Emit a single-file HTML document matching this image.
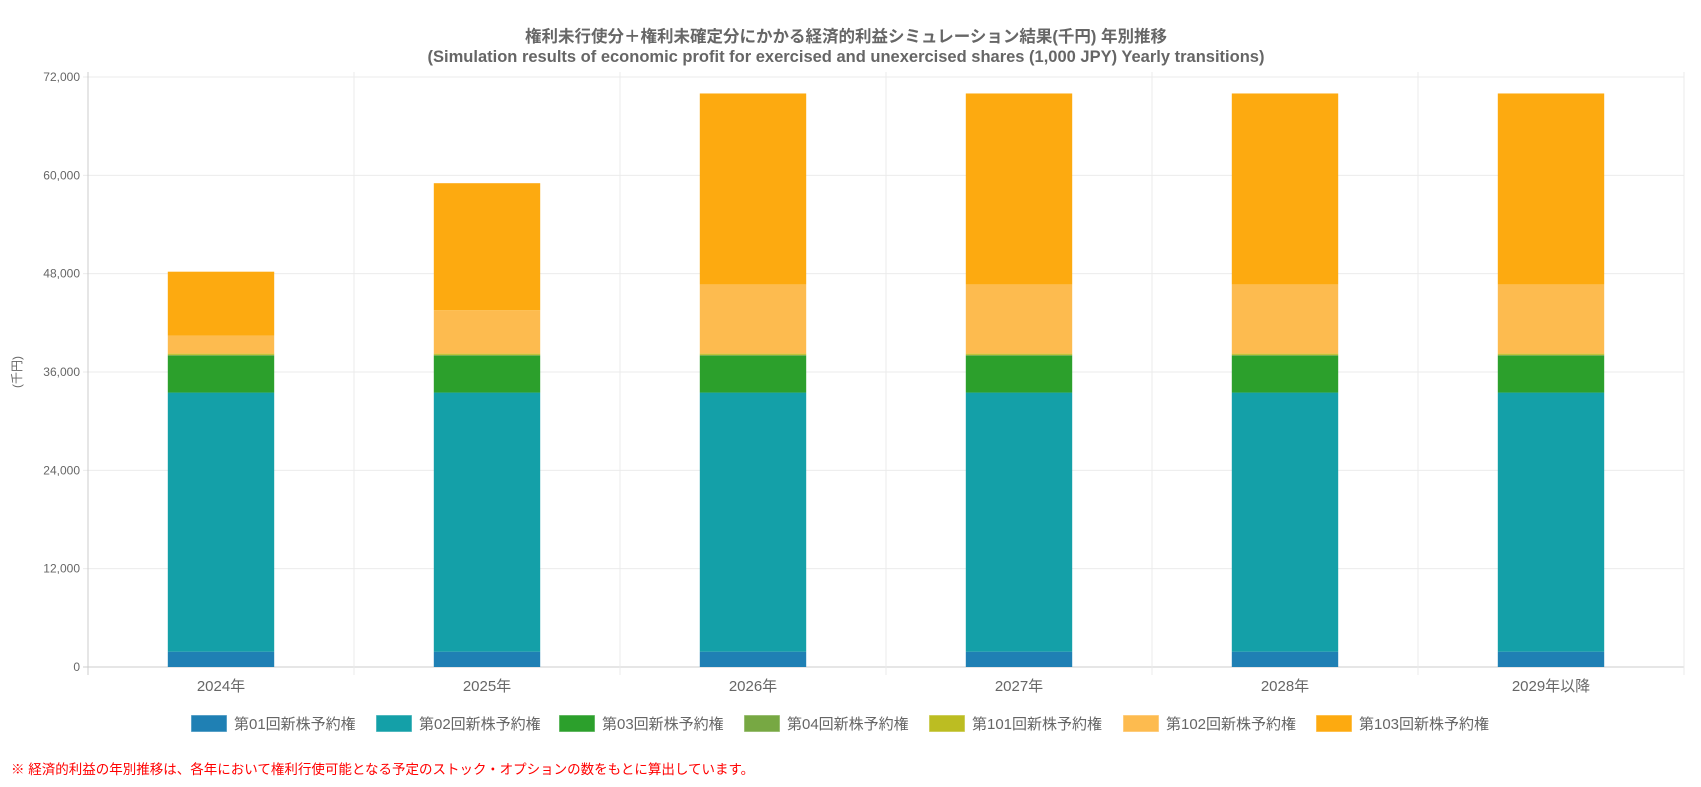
<!DOCTYPE html>
<html><head><meta charset="utf-8">
<style>
html,body{margin:0;padding:0;background:#fff;width:1701px;height:787px;overflow:hidden;}
svg{display:block;font-family:"Liberation Sans","Noto Sans CJK JP",sans-serif;}
</style></head>
<body>
<svg id="chart" width="1701" height="787" viewBox="0 0 1701 787" xmlns="http://www.w3.org/2000/svg">
<text x="846" y="42" text-anchor="middle" font-size="16.5" font-weight="bold" fill="#666">権利未行使分＋権利未確定分にかかる経済的利益シミュレーション結果(千円) 年別推移</text>
<text x="846" y="62" text-anchor="middle" font-size="16.5" font-weight="bold" fill="#666">(Simulation results of economic profit for exercised and unexercised shares (1,000 JPY) Yearly transitions)</text>
<text x="0" y="0" transform="translate(21,372) rotate(-90)" text-anchor="middle" font-size="12" fill="#666">(千円)</text>
<g id="grid"></g><g id="bars"></g><g id="axes"></g><g id="legend"></g>
<text x="11" y="774" font-size="13.5" fill="#f00">※ 経済的利益の年別推移は、各年において権利行使可能となる予定のストック・オプションの数をもとに算出しています。</text>
</svg>
<script>
const categories = ["2024年","2025年","2026年","2027年","2028年","2029年以降"];
const seriesNames = ["第01回新株予約権","第02回新株予約権","第03回新株予約権","第04回新株予約権","第101回新株予約権","第102回新株予約権","第103回新株予約権"];
const s01 = [1870,1870,1870,1870,1870,1870];
const s02 = [31620,31620,31620,31620,31620,31620];
const s03 = [4500,4500,4500,4500,4500,4500];
const s04 = [100,100,100,100,100,100];
const s101 = [150,150,150,150,150,150];
const s102 = [2200,5300,8450,8450,8450,8450];
const s103 = [7800,15500,23300,23300,23300,23300];
const yTicks = [0,12000,24000,36000,48000,60000,72000];
const colors = ["#1f80b4","#14a0a8","#2ca02c","#77a843","#bcbd22","#fdbb4f","#fdaa10"];
const series = [s01,s02,s03,s04,s101,s102,s103];

const NS="http://www.w3.org/2000/svg";
const X0=88, X1=1684, Y0=667, YT=77, YMAX=72000;
const bw=(X1-X0)/categories.length;
const y=v=>Y0-(v/YMAX)*(Y0-YT);
const xc=i=>X0+bw*(i+0.5);
function mk(tag,attrs,parent){const e=document.createElementNS(NS,tag);for(const k in attrs)e.setAttribute(k,attrs[k]);parent.appendChild(e);return e;}
const grid=document.getElementById('grid'),bars=document.getElementById('bars'),axes=document.getElementById('axes'),legend=document.getElementById('legend');

yTicks.forEach(t=>{
  const l=mk('line',{x1:X0-5,x2:X1,y1:y(t),y2:y(t),stroke:t===0?'#ccc':'#ebebeb','stroke-width':1},grid);
  
  
  const tx=mk('text',{x:X0-8,y:y(t)+4,'text-anchor':'end','font-size':12,fill:'#666'},axes);
  tx.textContent=t.toLocaleString('en-US');
  
  
});
for(let i=0;i<=categories.length;i++){
  const l=mk('line',{x1:X0+bw*i,x2:X0+bw*i,y1:YT-5,y2:Y0+8,stroke:i===0?'#ccc':'#ebebeb','stroke-width':1},grid);
  
  
}
categories.forEach((c,i)=>{
  let acc=0;
  series.forEach((s,k)=>{
    const v=s[i];
    const r=mk('rect',{x:xc(i)-bw*0.2,width:bw*0.4,y:y(acc+v),height:Math.max(0,y(acc)-y(acc+v)),fill:colors[k]},bars);
    
    
    acc+=v;
  });
  const t=mk('text',{x:xc(i),y:691,'text-anchor':'middle','font-size':15,fill:'#666'},axes);
  t.textContent=c;
  
  
});
const legX=[191,376,559,744,929,1123,1316];
seriesNames.forEach((n,k)=>{
  const g=mk('g',{},legend);
  
  
  mk('rect',{x:legX[k],y:715,width:36,height:17,fill:colors[k],stroke:'rgba(255,255,255,0.5)'},g);
  const t=mk('text',{x:legX[k]+43,y:729,'font-size':15,fill:'#666'},g);
  t.textContent=n;
});
</script>
</body></html>
